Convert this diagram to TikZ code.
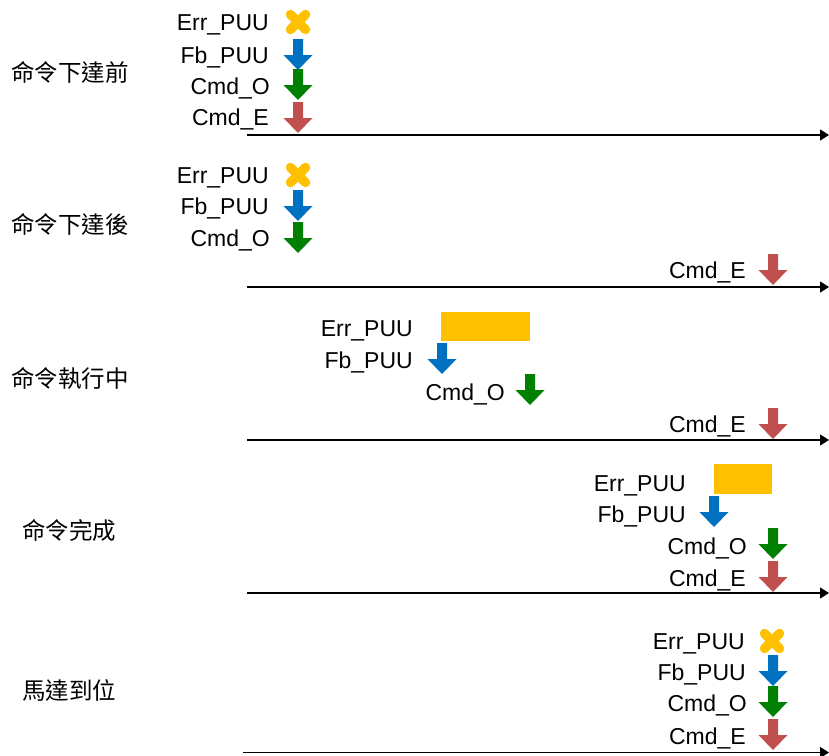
\documentclass[tikz,border=0pt]{standalone}
\usepackage{fontspec}
\setmainfont{Liberation Sans}
\newfontfamily\cjk{Noto Sans CJK TC}
\usetikzlibrary{arrows.meta}
\definecolor{cYel}{HTML}{FFC000}
\definecolor{cBlue}{HTML}{0070C0}
\definecolor{cGreen}{HTML}{008000}
\definecolor{cRed}{HTML}{C0504D}
\tikzset{
  lbl/.style={anchor=base east, inner sep=0pt, font=\fontsize{23}{27}\selectfont},
  stage/.style={anchor=center, inner sep=0pt, font=\cjk\fontsize{23.5}{28}\selectfont},
  tline/.style={line width=1.5pt, -{Triangle[length=9pt,width=11pt]}},
  bar/.style={fill=cYel, inner sep=0pt, draw=none},
  dnarrow/.pic={\fill[pic actions] (-5,-16) -- (5,-16) -- (5,0) -- (14.5,0) -- (0,15) -- (-14.5,0) -- (-5,0) -- cycle;},
  xmark/.pic={\draw[line width=9.5pt, line cap=round, cYel] (-7.5,-7.5) -- (7.5,7.5) (-7.5,7.5) -- (7.5,-7.5);}
}
\begin{document}
\begin{tikzpicture}[x=1pt,y=-1pt]
\useasboundingbox (0,0) rectangle (829,755);
% stage titles
\node[stage] (st1) at (70,72) {命令下達前};
\node[stage] (st2) at (70,224) {命令下達後};
\node[stage] (st3) at (70,378) {命令執行中};
\node[stage] (st4) at (69,531) {命令完成};
\node[stage] (st5) at (69,690) {馬達到位};
% panel 1
\node[lbl] (e1) at (269,30) {Err\_PUU};
\pic at (298,22) {xmark};
\node[lbl] (f1) at (269,63) {Fb\_PUU};
\pic[fill=cBlue] at (298,55) {dnarrow};
\node[lbl] (o1) at (270,94) {Cmd\_O};
\pic[fill=cGreen] at (298,85) {dnarrow};
\node[lbl] (c1) at (269,125) {Cmd\_E};
\pic[fill=cRed] at (298,118) {dnarrow};
\coordinate (s1) at (247,135); \coordinate (t1) at (829,135);
\draw[tline] (s1) -- (t1);
% panel 2
\node[lbl] (e2) at (269,183) {Err\_PUU};
\pic at (298,175) {xmark};
\node[lbl] (f2) at (269,214) {Fb\_PUU};
\pic[fill=cBlue] at (298,206) {dnarrow};
\node[lbl] (o2) at (270,246) {Cmd\_O};
\pic[fill=cGreen] at (298,238) {dnarrow};
\node[lbl] (c2) at (746,278) {Cmd\_E};
\pic[fill=cRed] at (773,270) {dnarrow};
\coordinate (s2) at (247,287); \coordinate (t2) at (829,287);
\draw[tline] (s2) -- (t2);
% panel 3
\node[lbl] (e3) at (413,336) {Err\_PUU};
\node[bar, minimum width=89pt, minimum height=29pt] (b3) at (485.5,326.5) {};
\node[lbl] (f3) at (413,368) {Fb\_PUU};
\pic[fill=cBlue] at (442,359) {dnarrow};
\node[lbl] (o3) at (505,400) {Cmd\_O};
\pic[fill=cGreen] at (530,390) {dnarrow};
\node[lbl] (c3) at (746,432) {Cmd\_E};
\pic[fill=cRed] at (773,424) {dnarrow};
\coordinate (s3) at (247,440); \coordinate (t3) at (829,440);
\draw[tline] (s3) -- (t3);
% panel 4
\node[lbl] (e4) at (686,491) {Err\_PUU};
\node[bar, minimum width=58pt, minimum height=30pt] (b4) at (743,479) {};
\node[lbl] (f4) at (686,522) {Fb\_PUU};
\pic[fill=cBlue] at (714,512) {dnarrow};
\node[lbl] (o4) at (747,554) {Cmd\_O};
\pic[fill=cGreen] at (773,544) {dnarrow};
\node[lbl] (c4) at (746,586) {Cmd\_E};
\pic[fill=cRed] at (773,577) {dnarrow};
\coordinate (s4) at (247,593); \coordinate (t4) at (829,593);
\draw[tline] (s4) -- (t4);
% panel 5
\node[lbl] (e5) at (745,649) {Err\_PUU};
\pic at (772,641) {xmark};
\node[lbl] (f5) at (746,680) {Fb\_PUU};
\pic[fill=cBlue] at (773,671) {dnarrow};
\node[lbl] (o5) at (747,711) {Cmd\_O};
\pic[fill=cGreen] at (773,702) {dnarrow};
\node[lbl] (c5) at (746,744) {Cmd\_E};
\pic[fill=cRed] at (773,735) {dnarrow};
\coordinate (s5) at (243,752.5); \coordinate (t5) at (829,752.5);
\draw[tline] (s5) -- (t5);
\end{tikzpicture}
\end{document}
